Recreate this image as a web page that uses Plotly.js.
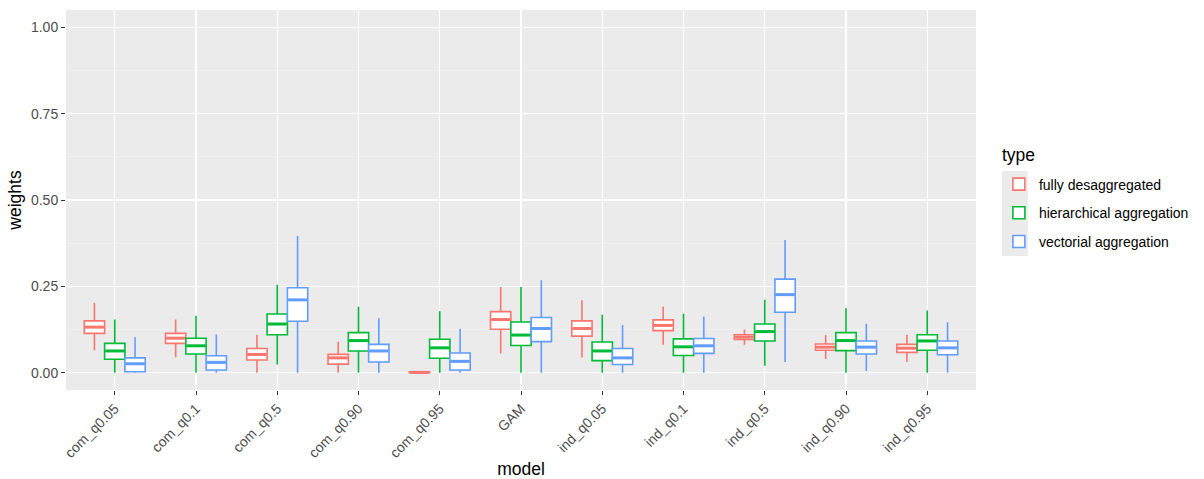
<!DOCTYPE html>
<html><head><meta charset="utf-8">
<script src="https://cdn.plot.ly/plotly-3.0.1.min.js"></script>
<style>html,body{margin:0;padding:0;background:#fff;}#plot{width:1204px;height:479px;}</style>
</head><body><div id="plot"></div>
<script>
const models = ["com_q0.05","com_q0.1","com_q0.5","com_q0.90","com_q0.95","GAM","ind_q0.05","ind_q0.1","ind_q0.5","ind_q0.90","ind_q0.95"];
const types = ["fully desaggregated","hierarchical aggregation","vectorial aggregation"];
const colors = ["#F8766D","#00BA38","#619CFF"];

// fully desaggregated
const fdLow = [0.064,0.045,0.000,0.000,0.000,0.056,0.044,0.081,0.081,0.040,0.031];
const fdQ1  = [0.114,0.085,0.037,0.025,0.000,0.126,0.106,0.122,0.096,0.065,0.059];
const fdMed = [0.132,0.100,0.053,0.043,0.001,0.154,0.128,0.137,0.103,0.074,0.071];
const fdQ3  = [0.150,0.114,0.070,0.053,0.003,0.177,0.150,0.153,0.110,0.083,0.082];
const fdUp  = [0.202,0.154,0.110,0.090,0.004,0.248,0.210,0.192,0.125,0.109,0.110];

// hierarchical aggregation
const haLow = [0.000,0.000,0.024,0.000,0.000,0.000,0.000,0.000,0.020,0.000,0.000];
const haQ1  = [0.039,0.054,0.110,0.063,0.042,0.079,0.035,0.050,0.092,0.064,0.065];
const haMed = [0.063,0.078,0.141,0.093,0.072,0.109,0.063,0.075,0.119,0.093,0.092];
const haQ3  = [0.085,0.100,0.170,0.116,0.097,0.147,0.089,0.098,0.141,0.116,0.110];
const haUp  = [0.154,0.165,0.255,0.191,0.178,0.248,0.168,0.171,0.211,0.187,0.180];

// vectorial aggregation
const vaLow = [0.000,0.000,0.000,0.000,0.000,0.000,0.000,0.000,0.031,0.005,0.000];
const vaQ1  = [0.003,0.008,0.149,0.031,0.008,0.090,0.024,0.056,0.175,0.054,0.052];
const vaMed = [0.026,0.030,0.211,0.063,0.033,0.128,0.043,0.078,0.226,0.074,0.072];
const vaQ3  = [0.043,0.049,0.246,0.082,0.057,0.160,0.070,0.099,0.271,0.092,0.092];
const vaUp  = [0.103,0.111,0.396,0.158,0.127,0.268,0.138,0.163,0.384,0.142,0.146];

const stats = [
  [fdLow, fdQ1, fdMed, fdQ3, fdUp],
  [haLow, haQ1, haMed, haQ3, haUp],
  [vaLow, vaQ1, vaMed, vaQ3, vaUp]
];

const GROUP_WIDTH = 0.75;
const BOX_W = GROUP_WIDTH / types.length;

const traces = types.map((t, i) => ({
  type: "box",
  name: t,
  x: models,
  lowerfence: stats[i][0],
  q1: stats[i][1],
  median: stats[i][2],
  q3: stats[i][3],
  upperfence: stats[i][4],
  boxpoints: false,
  whiskerwidth: 0,
  fillcolor: "#FFFFFF",
  line: {color: colors[i], width: 1.6},
  legendgroup: "g" + i,
  hoverinfo: "skip"
}));

// thicker median bars (ggplot fatten), positioned via an overlaid numeric axis
types.forEach((t, i) => {
  const off = -GROUP_WIDTH / 2 + BOX_W * (i + 0.5);
  const xs = [], ys = [];
  models.forEach((m, k) => {
    xs.push(k + off - BOX_W / 2 + 0.01, k + off + BOX_W / 2 - 0.01, null);
    ys.push(stats[i][2][k], stats[i][2][k], null);
  });
  traces.push({
    type: "scatter", mode: "lines", x: xs, y: ys, xaxis: "x2",
    line: {color: colors[i], width: 3}, showlegend: false, hoverinfo: "skip"
  });
});

const font = "Liberation Sans, Arial, Helvetica, sans-serif";
const px = v => (v - 66) / 914;
const py = v => (390 - v) / 380;
const layout = {
  width: 1204, height: 479,
  margin: {l: 66, r: 224, t: 10, b: 89},
  paper_bgcolor: "#FFFFFF",
  plot_bgcolor: "#EBEBEB",
  boxmode: "group",
  boxgap: 0.25,
  boxgroupgap: 0,
  font: {family: font, color: "#000"},
  xaxis: {
    type: "category",
    range: [-0.6, 10.6],
    showgrid: true, gridcolor: "#FFFFFF", gridwidth: 1.2,
    zeroline: false, showline: false,
    ticks: "outside", ticklen: 4, tickcolor: "#333333", tickwidth: 1,
    tickangle: -45,
    tickfont: {family: font, size: 14, color: "#4D4D4D"},
    title: {text: "model", font: {family: font, size: 17.5, color: "#000"}, standoff: 6}
  },
  xaxis2: {overlaying: "x", range: [-0.6, 10.6], visible: false},
  yaxis: {
    range: [-0.05, 1.05],
    tickmode: "linear", tick0: 0, dtick: 0.25, tickformat: ".2f",
    showgrid: true, gridcolor: "#FFFFFF", gridwidth: 1.2,
    minor: {tickmode: "linear", tick0: 0, dtick: 0.125, showgrid: true, gridcolor: "#F4F4F4", gridwidth: 0.7, ticks: ""},
    zeroline: false, showline: false,
    ticks: "outside", ticklen: 4, tickcolor: "#333333", tickwidth: 1,
    tickfont: {family: font, size: 14, color: "#4D4D4D"},
    title: {text: "weights", font: {family: font, size: 17.5, color: "#000"}, standoff: 4}
  },
  showlegend: true,
  legend: {
    x: px(1003), xanchor: "left", y: py(213), yanchor: "middle",
    bgcolor: "rgba(0,0,0,0)",
    font: {family: font, size: 14, color: "#000"},
    tracegroupgap: 7.5,
    itemwidth: 30
  },
  shapes: [{
    type: "rect", xref: "paper", yref: "paper", layer: "below",
    x0: px(1006), x1: px(1032), y0: py(256), y1: py(171),
    fillcolor: "#EBEBEB", line: {width: 0}
  }],
  annotations: [{
    text: "type", xref: "paper", yref: "paper", x: px(1004), y: py(155),
    xanchor: "left", yanchor: "middle", showarrow: false,
    font: {family: font, size: 17.5, color: "#000"}
  }]
};

Plotly.newPlot("plot", traces, layout, {displayModeBar: false, staticPlot: true});
</script>
</body></html>
